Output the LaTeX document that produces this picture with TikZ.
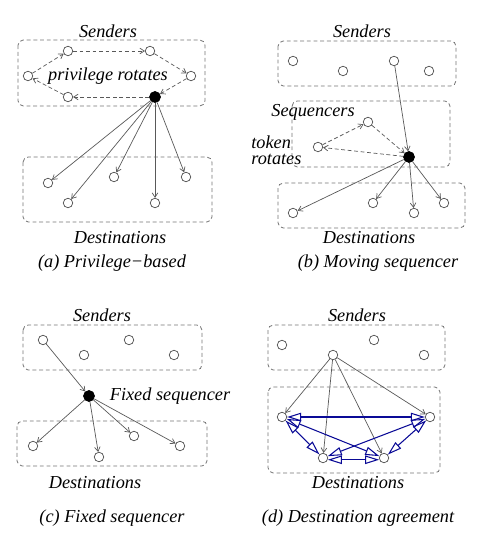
\documentclass[tikz,border=0pt]{standalone}
\usepackage{fontspec}
\setmainfont{Liberation Serif}
\usetikzlibrary{arrows.meta}
\definecolor{agreeblue}{RGB}{10,10,150}

\begin{document}
\begin{tikzpicture}[x=0.02cm,y=-0.02cm,
proc/.style={circle,draw=black!70,fill=white,line width=0.4pt,minimum size=0.19cm,inner sep=0pt},
seq/.style={circle,draw=black,fill=black,minimum size=0.22cm,inner sep=0pt},
group/.style={draw=black!55,dash pattern=on 2.2pt off 1.6pt,rounded corners=3pt,line width=0.45pt},
msg/.style={black!65,line width=0.4pt,-{Straight Barb[length=2.5pt,width=3.2pt]}},
token/.style={msg,dash pattern=on 2.2pt off 1.5pt},
agree/.style={agreeblue,line width=0.6pt,{Triangle[open,length=8pt,width=4.8pt]}-{Triangle[open,length=8pt,width=4.8pt]}},
lbl/.style={font=\fontsize{10.4}{9}\selectfont\itshape,inner sep=0pt}]

\useasboundingbox (0,0) rectangle (490,546);

% (a) privilege-based
\draw [group] (18,40) rectangle (205,106);
\draw [group] (23,157) rectangle (212,222);
\node (asnd) at (108,31) [lbl] {Senders};
\node (arot) at (108,76) [lbl] {privilege rotates};

\node (as1) at (28,76) [proc] {};
\node (as2) at (68,51) [proc] {};
\node (as3) at (150,51) [proc] {};
\node (as4) at (191,76) [proc] {};
\node (aseq) at (155,97) [seq] {};
\node (as6) at (68,97) [proc] {};

\node (ad1) at (48,183) [proc] {};
\node (ad2) at (68,203) [proc] {};
\node (ad3) at (114,177) [proc] {};
\node (ad4) at (155,203) [proc] {};
\node (ad5) at (186,177) [proc] {};

\draw [token] (as1) -- (as2);
\draw [token] (as2) -- (as3);
\draw [token] (as3) -- (as4);
\draw [token] (as4) -- (aseq);
\draw [token] (aseq) -- (as6);
\draw [token] (as6) -- (as1);

\foreach \d in {ad1,ad2,ad3,ad4,ad5}
  \draw [msg] (aseq) -- (\d);

\node (adst) at (120,238) [lbl] {Destinations};
\node (acap) at (112,263) [lbl] {(a) Privilege−based};

% (b) moving sequencer
\draw [group] (278,41) rectangle (456,86);
\draw [group] (292,101) rectangle (450,167);
\draw [group] (278,183) rectangle (465,228);
\node (bsnd) at (362,31) [lbl] {Senders};
\node (bsqs) at (313,112) [lbl] {Sequencers};
\node (brot) at (251,150) [lbl,anchor=west,align=left] {token\\rotates};

\node (bs1) at (293,61) [proc] {};
\node (bs2) at (343,71) [proc] {};
\node (bs3) at (394,61) [proc] {};
\node (bs4) at (429,71) [proc] {};

\node (bq1) at (318,147) [proc] {};
\node (bq2) at (368,122) [proc] {};
\node (bseq) at (409,157) [seq] {};

\node (bd1) at (293,213) [proc] {};
\node (bd2) at (373,203) [proc] {};
\node (bd3) at (414,213) [proc] {};
\node (bd4) at (444,203) [proc] {};

\draw [token] (bq1) -- (bq2);
\draw [token] (bq2) -- (bseq);
\draw [token] (bseq) -- (bq1);
\draw [msg] (bs3) -- (bseq);
\foreach \d in {bd1,bd2,bd3,bd4}
  \draw [msg] (bseq) -- (\d);

\node (bdst) at (369,238) [lbl] {Destinations};
\node (bcap) at (378,263) [lbl] {(b) Moving sequencer};

% (c) fixed sequencer
\draw [group] (23,325) rectangle (202,370);
\draw [group] (17,421) rectangle (207,466);
\node (csnd) at (102,315) [lbl] {Senders};

\node (cs1) at (43,340) [proc] {};
\node (cs2) at (84,355) [proc] {};
\node (cs3) at (129,340) [proc] {};
\node (cs4) at (174,355) [proc] {};

\node (cseq) at (89,396) [seq] {};
\node (cfix) at (170,396) [lbl] {Fixed sequencer};

\node (cd1) at (33,446) [proc] {};
\node (cd2) at (99,457) [proc] {};
\node (cd3) at (134,436) [proc] {};
\node (cd4) at (180,446) [proc] {};

\draw [msg] (cs1) -- (cseq);
\foreach \d in {cd1,cd2,cd3,cd4}
  \draw [msg] (cseq) -- (\d);

\node (cdst) at (95,483) [lbl] {Destinations};
\node (ccap) at (112,518) [lbl] {(c) Fixed sequencer};

% (d) destination agreement
\draw [group] (268,325) rectangle (445,370);
\draw [group] (268,387) rectangle (440,473);
\node (dsnd) at (357,315) [lbl] {Senders};

\node (ds1) at (282,345) [proc] {};
\node (ds2) at (333,355) [proc] {};
\node (ds3) at (374,340) [proc] {};
\node (ds4) at (424,355) [proc] {};

\node (dd1) at (282,417) [proc] {};
\node (dd2) at (323,458) [proc] {};
\node (dd3) at (384,458) [proc] {};
\node (dd4) at (430,417) [proc] {};

\foreach \d in {dd1,dd2,dd3,dd4}
  \draw [msg] (ds2) -- (\d);

\draw [agree] (dd1) -- (dd4);
\draw [agree] (dd1) -- (dd2);
\draw [agree] (dd1) -- (dd3);
\draw [agree] (dd4) -- (dd2);
\draw [agree] (dd4) -- (dd3);
\draw [agree] (dd2.-20) -- (dd3.-160);

\node (ddst) at (358,483) [lbl] {Destinations};
\node (dcap) at (358,518) [lbl] {(d) Destination agreement};

\end{tikzpicture}
\end{document}
